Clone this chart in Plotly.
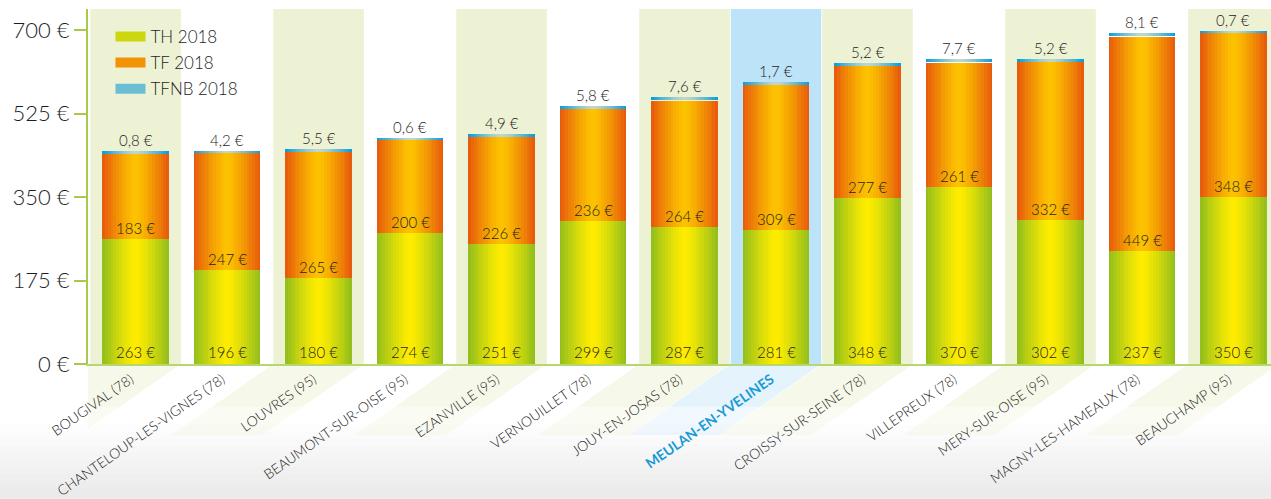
import plotly.graph_objects as go

# ---------------- data ----------------
categories = ["BOUGIVAL (78)", "CHANTELOUP-LES-VIGNES (78)", "LOUVRES (95)",
              "BEAUMONT-SUR-OISE (95)", "EZANVILLE (95)", "VERNOUILLET (78)",
              "JOUY-EN-JOSAS (78)", "MEULAN-EN-YVELINES", "CROISSY-SUR-SEINE (78)",
              "VILLEPREUX (78)", "MERY-SUR-OISE (95)", "MAGNY-LES-HAMEAUX (78)",
              "BEAUCHAMP (95)"]
th_2018 = [263, 196, 180, 274, 251, 299, 287, 281, 348, 370, 302, 237, 350]
tf_2018 = [183, 247, 265, 200, 226, 236, 264, 309, 277, 261, 332, 449, 348]
tfnb_2018 = [0.8, 4.2, 5.5, 0.6, 4.9, 5.8, 7.6, 1.7, 5.2, 7.7, 5.2, 8.1, 0.7]
highlight = "MEULAN-EN-YVELINES"
y_tickvals = [0, 175, 350, 525, 700]
y_ticktext = ["0 €", "175 €", "350 €", "525 €", "700 €"]

# ---------------- style ----------------
FONT = "Lato"
W_LIGHT = 300
TXT = "#1e1e1e"
AXIS_GREEN = "#a8ca4c"
BAND_GREEN = "#eef2d4"
BAND_BLUE = "#bde3f8"
HL_BLUE = "#1a9ad6"
BAR_W = 0.73
N_STRIPS = 24
TFNB_VIS = 6  # visual thickness of the TFNB cap (in €), drawn at the top of the stack

grad = {
    "TH 2018": ("#8fbd1e", "#ffec00"),
    "TF 2018": ("#e6570c", "#fcc300"),
    "TFNB 2018": ("#009ddf", "#c2d8cb"),
}


def hex2rgb(h):
    h = h.lstrip("#")
    return [int(h[i:i + 2], 16) for i in (0, 2, 4)]


def mix(c1, c2, t):
    a, b = hex2rgb(c1), hex2rgb(c2)
    return "rgb(%d,%d,%d)" % tuple(round(a[i] + (b[i] - a[i]) * t) for i in range(3))


fig = go.Figure()

totals_tf = [a + b for a, b in zip(th_2018, tf_2018)]
totals = [a + b for a, b in zip(totals_tf, tfnb_2018)]
segments = [
    ("TH 2018", th_2018, [0] * len(th_2018)),
    ("TF 2018", tf_2018, th_2018),
    ("TFNB 2018", [TFNB_VIS] * len(tfnb_2018), [t - TFNB_VIS for t in totals]),
]

sw = BAR_W / N_STRIPS
for name, vals, bases in segments:
    edge, center = grad[name]
    for k in range(N_STRIPS):
        pos = (k + 0.5) / N_STRIPS * 2 - 1  # -1..1
        t = max(0.0, 1 - abs(pos) ** 1.3)
        w = sw * 1.25 if k < N_STRIPS - 1 else sw
        fig.add_trace(go.Bar(
            x=categories, y=vals, base=bases,
            width=w, offset=-BAR_W / 2 + k * sw,
            marker=dict(color=mix(edge, center, t), line=dict(width=0)),
            showlegend=False, hoverinfo="skip", name=name,
        ))

# legend entries
for name in ["TH 2018", "TF 2018", "TFNB 2018"]:
    edge, center = grad[name]
    fig.add_trace(go.Scatter(
        x=[None], y=[None], mode="lines", name=name, legendgroup=name,
        line=dict(color=mix(edge, center, 0.55), width=10),
    ))

# ---------------- annotations ----------------
annos = []
lab_font = dict(family=FONT, size=15, color=TXT, weight=W_LIGHT)


def fmt(v):
    return ("%.1f" % v).replace(".", ",") + " €"


for i, c in enumerate(categories):
    annos.append(dict(x=c, y=0, text=f"{th_2018[i]} €", showarrow=False,
                      yanchor="bottom", yshift=1, font=lab_font))
    annos.append(dict(x=c, y=th_2018[i], text=f"{tf_2018[i]} €", showarrow=False,
                      yanchor="bottom", yshift=0, font=lab_font))
    annos.append(dict(x=c, y=totals[i], text=fmt(tfnb_2018[i]), showarrow=False,
                      yanchor="bottom", yshift=0, font=lab_font))

# ---------------- background shapes ----------------
shapes = []
# bottom grey gradient
for j in range(10):
    shapes.append(dict(type="rect", xref="paper", yref="paper",
                       x0=-0.2, x1=1.2, y0=-0.42, y1=-0.17 - j * 0.02,
                       fillcolor="rgba(0,0,0,0.006)", line=dict(width=0), layer="below"))

for i, c in enumerate(categories):
    if c == highlight:
        col, ops = BAND_BLUE, [(0.20, 0.2), (0.12, 0.25)]
    elif i % 2 == 0:
        col, ops = BAND_GREEN, [(0.20, 0.3), (0.12, 0.3)]
    else:
        continue
    shapes.append(dict(type="rect", xref="x", yref="paper", x0=i - 0.495, x1=i + 0.495,
                       y0=0, y1=1, fillcolor=col, line=dict(width=0), layer="below"))
    for depth, op in ops:
        dx = depth * 355 / 0.70 / 91.5
        path = (f"M {i - 0.495},0 L {i + 0.495},0 L {i + 0.495 - dx},{-depth} "
                f"L {i - 0.495 - dx},{-depth} Z")
        shapes.append(dict(type="path", xref="x", yref="paper", path=path,
                           fillcolor=col, opacity=op, line=dict(width=0), layer="below"))

ticktext = [f"<span style='color:{HL_BLUE}'><b>{c}</b></span>" if c == highlight else c
            for c in categories]

fig.update_layout(
    width=1271, height=499,
    margin=dict(l=88, r=0, t=9, b=135, autoexpand=False),
    paper_bgcolor="white", plot_bgcolor="rgba(0,0,0,0)",
    barmode="overlay", bargap=0,
    font=dict(family=FONT, color=TXT),
    showlegend=True,
    legend=dict(x=0.019, y=0.972, xanchor="left", yanchor="top",
                bgcolor="rgba(0,0,0,0)",
                font=dict(family=FONT, size=17, color=TXT, weight=W_LIGHT),
                tracegroupgap=1),
    annotations=annos, shapes=shapes,
    xaxis=dict(type="category", categoryorder="array", categoryarray=categories,
               range=[-0.52, 12.41], tickangle=-35, tickmode="array",
               tickvals=categories, ticktext=ticktext, ticks="",
               tickfont=dict(family=FONT, size=14, color=TXT, weight=W_LIGHT),
               ticklabelshift=-5,
               showline=True, linecolor="#b6d76c", linewidth=2, automargin=False,
               showgrid=False, zeroline=False, fixedrange=True),
    yaxis=dict(range=[0, 744], tickvals=y_tickvals, ticktext=y_ticktext,
               ticks="outside", ticklen=12, tickwidth=2, tickcolor=AXIS_GREEN,
               tickfont=dict(family=FONT, size=22, color=TXT, weight=W_LIGHT),
               showline=True, linecolor=AXIS_GREEN, linewidth=2, automargin=False,
               showgrid=False, zeroline=False, fixedrange=True),
)

fig.write_html("out.html", config={"displayModeBar": False},
               post_script="document.body.style.margin='0px';")
